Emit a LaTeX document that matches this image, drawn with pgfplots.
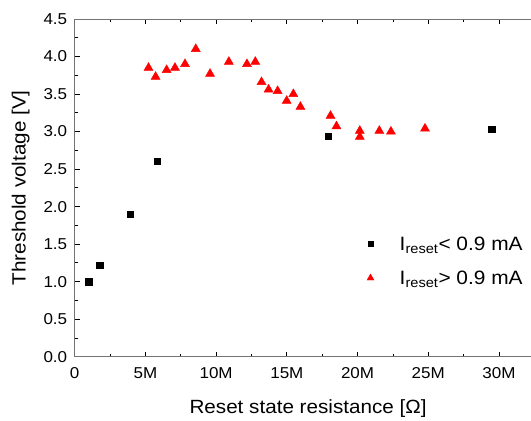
\documentclass[border=0pt]{standalone}
\usepackage{fontspec}
\setmainfont{Liberation Sans}[FakeStretch=1.08]
\usepackage{pgfplots}
\pgfplotsset{compat=1.18}
\pgfplotsset{mylegend/.style={legend image code/.code={\path (0bp,0bp) (41bp,0bp); \draw plot coordinates {(14bp,0bp)};}}}

\begin{document}
\begin{tikzpicture}
\begin{axis}[
  scale only axis,
  width=466.7bp, height=337.7bp,
  xmin=0, xmax=33, ymin=0, ymax=4.5,
  xtick={0,5,...,30},
  xticklabels={0,5M,10M,15M,20M,25M,30M},
  ytick={0,0.5,...,4.5},
  minor x tick num=1, minor y tick num=1,
  yticklabel style={/pgf/number format/fixed, /pgf/number format/fixed zerofill, /pgf/number format/precision=1, xshift=-4bp},
  /pgf/number format/assume math mode=true,
  tick label style={font=\fontsize{15.8}{18}\selectfont},
  label style={font=\fontsize{19.2}{22}\selectfont},
  xlabel={Reset state resistance [Ω]},
  ylabel={Threshold voltage [V]},
  xlabel style={yshift=-14bp},
  ylabel style={yshift=7bp},
  axis line style={black!55, line width=1bp},
  tick style={black, line width=0.8bp},
  major tick length=5bp, minor tick length=3bp,
  xticklabel style={yshift=-7bp},
  legend style={draw=none, fill=none, at={(axis cs:19.9,1.63)}, anchor=north west,
    font=\fontsize{19.4}{22}\selectfont, row sep=15bp, inner sep=0pt},
  legend cell align=left,
]
\addplot[only marks, mark=square*, mark size=3.3bp, black, forget plot] coordinates {
(1.0,1.0) (1.77,1.22) (3.92,1.90) (5.84,2.605) (17.92,2.94) (29.48,3.03)
};
\addplot[only marks, mark=triangle*, mark size=5.2bp, red, forget plot] coordinates {
(5.22,3.85) (5.72,3.73) (6.50,3.82) (7.09,3.85) (7.80,3.90) (8.56,4.10)
(9.57,3.77) (10.90,3.93) (12.18,3.90) (12.77,3.93) (13.21,3.66) (13.71,3.56)
(14.35,3.54) (14.99,3.41) (15.46,3.50) (15.96,3.33) (18.09,3.21) (18.51,3.07)
(20.16,3.01) (20.16,2.93) (21.54,3.01) (22.36,3.00) (24.77,3.04)
};
\addlegendimage{only marks, mark=square*, mark size=2.6bp, black, mylegend}
\addlegendentry{I\textsubscript{reset}< 0.9 mA}
\addlegendimage{only marks, mark=triangle*, mark size=4bp, red, mylegend}
\addlegendentry{I\textsubscript{reset}> 0.9 mA}
\end{axis}
\pgfresetboundingbox
\path ([shift={(-74.7bp,-64.3bp)}]current axis.south west) rectangle ([shift={(456.3bp,19bp)}]current axis.north west);
\end{tikzpicture}
\end{document}
